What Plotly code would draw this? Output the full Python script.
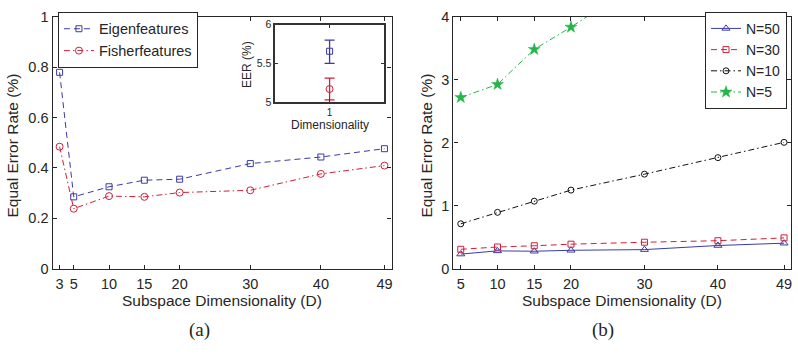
import plotly.graph_objects as go

# ---- data -------------------------------------------------------------
dims_a = [3, 5, 10, 15, 20, 30, 40, 49]
eigen_eer = [0.779, 0.285, 0.325, 0.351, 0.355, 0.417, 0.443, 0.476]
fisher_eer = [0.484, 0.238, 0.288, 0.285, 0.302, 0.311, 0.376, 0.409]

dims_b = [5, 10, 15, 20, 30, 40, 49]
eer_n50 = [0.232, 0.283, 0.277, 0.292, 0.303, 0.368, 0.405]
eer_n30 = [0.308, 0.344, 0.364, 0.389, 0.420, 0.444, 0.489]
eer_n10 = [0.712, 0.894, 1.071, 1.247, 1.500, 1.762, 2.005]
eer_n5 = [2.717, 2.924, 3.480, 3.833, 4.600, 5.400, 6.000]

inset_x = [1]
inset_eigen = [5.656]
inset_eigen_err_plus = [0.144]
inset_eigen_err_minus = [0.156]
inset_fisher = [5.170]
inset_fisher_err_plus = [0.140]
inset_fisher_err_minus = [0.140]

ticks_a = [3, 5, 10, 15, 20, 30, 40, 49]
ticks_b = [5, 10, 15, 20, 30, 40, 49]
yticks_a = [0, 0.2, 0.4, 0.6, 0.8, 1]
yticks_b = [0, 1, 2, 3, 4]

# ---- style ------------------------------------------------------------
BLUE = "#3b3ba6"
RED = "#cf2039"
BLACK = "#111111"
GREEN = "#22b548"
AXC = "#262626"
FONT = "Liberation Sans"
W, H = 798, 355

def px_x(p):
    return p / W

def px_y(p):
    return 1 - p / H

fig = go.Figure()

# panel (a)
fig.add_trace(go.Scatter(
    x=dims_a, y=eigen_eer, name="Eigenfeatures", xaxis="x", yaxis="y",
    mode="lines+markers", legend="legend",
    line=dict(color=BLUE, width=1, dash="6px,4px"),
    marker=dict(symbol="square-open", size=6, color=BLUE, line=dict(width=1))))
fig.add_trace(go.Scatter(
    x=dims_a, y=fisher_eer, name="Fisherfeatures", xaxis="x", yaxis="y",
    mode="lines+markers", legend="legend",
    line=dict(color=RED, width=1, dash="6px,3px,1.5px,3px"),
    marker=dict(symbol="circle-open", size=7, color=RED, line=dict(width=1))))

# inset of panel (a)
fig.add_trace(go.Scatter(
    x=inset_x, y=inset_eigen, xaxis="x3", yaxis="y3", mode="markers",
    showlegend=False,
    marker=dict(symbol="square-open", size=6, color=BLUE, line=dict(width=1)),
    error_y=dict(type="data", symmetric=False, array=inset_eigen_err_plus,
                 arrayminus=inset_eigen_err_minus, color=BLUE,
                 thickness=1.3, width=5)))
fig.add_trace(go.Scatter(
    x=inset_x, y=inset_fisher, xaxis="x3", yaxis="y3", mode="markers",
    showlegend=False,
    marker=dict(symbol="circle-open", size=7, color=RED, line=dict(width=1)),
    error_y=dict(type="data", symmetric=False, array=inset_fisher_err_plus,
                 arrayminus=inset_fisher_err_minus, color=RED,
                 thickness=1.3, width=5)))

# panel (b)
fig.add_trace(go.Scatter(
    x=dims_b, y=eer_n50, name="N=50", xaxis="x2", yaxis="y2",
    mode="lines+markers", legend="legend2",
    line=dict(color=BLUE, width=1),
    marker=dict(symbol="triangle-up-open", size=7, color=BLUE, line=dict(width=1))))
fig.add_trace(go.Scatter(
    x=dims_b, y=eer_n30, name="N=30", xaxis="x2", yaxis="y2",
    mode="lines+markers", legend="legend2",
    line=dict(color=RED, width=1, dash="6px,4px"),
    marker=dict(symbol="square-open", size=6, color=RED, line=dict(width=1))))
fig.add_trace(go.Scatter(
    x=dims_b, y=eer_n10, name="N=10", xaxis="x2", yaxis="y2",
    mode="lines+markers", legend="legend2",
    line=dict(color=BLACK, width=1, dash="6px,3px,1.5px,3px"),
    marker=dict(symbol="circle-open", size=6, color=BLACK, line=dict(width=1))))
fig.add_trace(go.Scatter(
    x=dims_b, y=eer_n5, name="N=5", xaxis="x2", yaxis="y2",
    mode="lines+markers", legend="legend2",
    line=dict(color=GREEN, width=1, dash="6px,3px,1.5px,3px"),
    marker=dict(symbol="star", size=9, color=GREEN, line=dict(width=0.5, color=GREEN))))

axis_common = dict(
    showline=True, linecolor=AXC, linewidth=1.2, mirror="ticks",
    ticks="inside", ticklen=4, tickwidth=1, tickcolor=AXC,
    showgrid=False, zeroline=False,
    tickfont=dict(family=FONT, size=14.5, color=AXC),
)

fig.update_layout(
    width=W, height=H,
    margin=dict(l=0, r=0, t=0, b=0),
    paper_bgcolor="white", plot_bgcolor="white",
    font=dict(family=FONT, color=AXC),
    xaxis=dict(domain=[px_x(52.6), px_x(392)], range=[2, 50],
               tickvals=ticks_a, anchor="y", ticklabelstandoff=2, **axis_common),
    yaxis=dict(domain=[px_y(273), px_y(9)], range=[0, 1],
               tickvals=yticks_a, ticktext=[f"{v:g}" for v in yticks_a],
               anchor="x", **axis_common),
    xaxis2=dict(domain=[px_x(454), px_x(792.4)], range=[4, 50],
                tickvals=ticks_b, anchor="y2", ticklabelstandoff=2, **axis_common),
    yaxis2=dict(domain=[px_y(273), px_y(9)], range=[0, 4],
                tickvals=yticks_b, anchor="x2", **axis_common),
    xaxis3=dict(domain=[px_x(275.7), px_x(384.3)], range=[0.5, 1.5],
                tickvals=[1], anchor="y3",
                showline=True, linecolor="#333333", linewidth=2, mirror="ticks",
                ticks="inside", ticklen=3, tickcolor="#333333",
                showgrid=False, zeroline=False,
                tickfont=dict(family=FONT, size=10, color=AXC)),
    yaxis3=dict(domain=[px_y(98.7), px_y(17.3)], range=[5, 6],
                tickvals=[5, 5.5, 6], anchor="x3",
                showline=True, linecolor="#333333", linewidth=2, mirror="ticks",
                ticks="inside", ticklen=3, tickcolor="#333333",
                showgrid=False, zeroline=False,
                tickfont=dict(family=FONT, size=10.5, color=AXC)),
    legend=dict(x=px_x(58), y=px_y(4), xanchor="left", yanchor="top",
                bgcolor="white", bordercolor=AXC, borderwidth=1,
                font=dict(family=FONT, size=14.5, color=AXC),
                tracegroupgap=0, itemwidth=30),
    legend2=dict(x=px_x(788), y=px_y(4), xanchor="right", yanchor="top",
                 bgcolor="white", bordercolor=AXC, borderwidth=1,
                 font=dict(family=FONT, size=14, color=AXC),
                 tracegroupgap=0, itemwidth=30),
    showlegend=True,
)

def label(text, x, y, size, angle=0, family=FONT):
    fig.add_annotation(text=text, x=px_x(x), y=px_y(y), xref="paper", yref="paper",
                       showarrow=False, textangle=angle, xanchor="center",
                       yanchor="middle",
                       font=dict(family=family, size=size, color=AXC))

label("Equal Error Rate (%)", 13, 144, 15.5, angle=-90)
label("Equal Error Rate (%)", 427.5, 144, 15.5, angle=-90)
label("Subspace Dimensionality (D)", 222, 306, 15.5)
label("Subspace Dimensionality (D)", 623, 306, 15.5)
label("EER (%)", 248, 59, 12, angle=-90)
label("Dimensionality", 330, 123, 12)
label("(a)", 200, 337, 19, family="Liberation Serif")
label("(b)", 604, 337, 19, family="Liberation Serif")

fig.write_html("out.html")
